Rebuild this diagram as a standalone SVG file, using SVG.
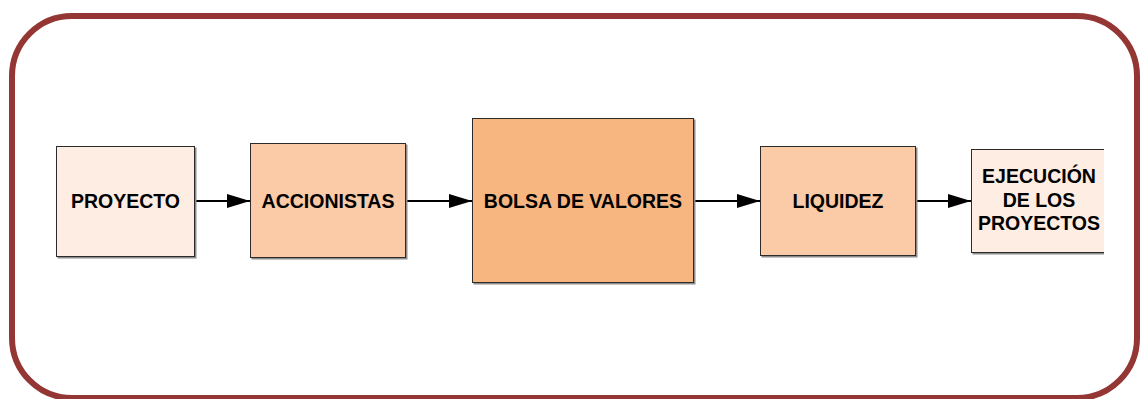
<svg xmlns="http://www.w3.org/2000/svg" width="1140" height="399" viewBox="0 0 1140 399">
<style>
.box{stroke:#2b2b2b;stroke-width:1}
.sh{fill:#8c8c8c}
.t{font-family:"Liberation Sans",Arial,sans-serif;font-weight:bold;font-size:19.5px;fill:#000;text-anchor:middle}
.c{stroke:#000;stroke-width:2;fill:none;marker-end:url(#ah)}
</style>
<defs>
<marker id="ah" markerWidth="23" markerHeight="14" refX="23" refY="7" orient="auto" markerUnits="userSpaceOnUse">
<path d="M0,0 L23,7 L0,14 Z" fill="#000"/>
</marker>
<clipPath id="clipE"><rect x="960" y="140" width="144" height="130"/></clipPath>
</defs>
<rect width="1140" height="399" fill="#fff"/>
<rect id="frame" x="12" y="16" width="1125" height="382" rx="60" ry="60" fill="none" stroke="#943634" stroke-width="6"/>
<g id="connectors">
<line class="c" x1="195" y1="201" x2="250" y2="201"/>
<line class="c" x1="406" y1="201" x2="472" y2="201"/>
<line class="c" x1="694" y1="201" x2="760" y2="201"/>
<line class="c" x1="916" y1="201" x2="971" y2="201"/>
</g>
<g id="proyecto">
<rect class="sh" x="57.5" y="147.5" width="139" height="111"/>
<rect class="box" x="56.5" y="146.5" width="138" height="110" fill="#FDEDE3"/>
<text class="t" x="125.5" y="207.5">PROYECTO</text>
</g>
<g id="accionistas">
<rect class="sh" x="251.5" y="144.5" width="156" height="115"/>
<rect class="box" x="250.5" y="143.5" width="155" height="114" fill="#FACBA6"/>
<text class="t" x="328" y="207.5">ACCIONISTAS</text>
</g>
<g id="bolsa">
<rect class="sh" x="473.5" y="119.5" width="222" height="165"/>
<rect class="box" x="472.5" y="118.5" width="221" height="164" fill="#F7B680"/>
<text class="t" x="583" y="207.5">BOLSA DE VALORES</text>
</g>
<g id="liquidez">
<rect class="sh" x="761.5" y="147.5" width="156" height="110"/>
<rect class="box" x="760.5" y="146.5" width="155" height="109" fill="#FACBA6"/>
<text class="t" x="838" y="207.5">LIQUIDEZ</text>
</g>
<g id="ejecucion">
<g clip-path="url(#clipE)">
<rect class="sh" x="972.5" y="150.5" width="140" height="104"/>
<rect class="box" x="971.5" y="149.5" width="140" height="103" fill="#FDEDE3"/>
</g>
<text class="t" x="1039" y="183">EJECUCIÓN</text>
<text class="t" x="1039" y="207">DE LOS</text>
<text class="t" x="1039" y="230">PROYECTOS</text>
</g>
</svg>
